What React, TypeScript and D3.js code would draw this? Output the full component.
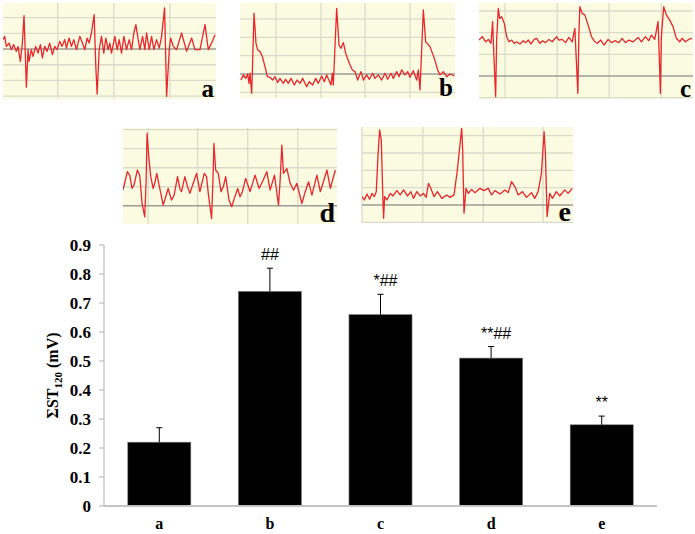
import React from "react";
import * as d3 from "d3";

// ---------- Bar chart data ----------
const categories = ["a", "b", "c", "d", "e"];
const meanST = [0.22, 0.74, 0.66, 0.51, 0.28];
const errST = [0.05, 0.08, 0.07, 0.04, 0.03];
const marks = ["", "##", "*##", "**##", "**"];
const yTicks = [0, 0.1, 0.2, 0.3, 0.4, 0.5, 0.6, 0.7, 0.8, 0.9];

// ---------- ECG traces: [time unit, amplitude in grid units] ----------
const ecgA: [number, number][] = [
  [0, 0.6], [5, 0.81], [10, 0.17], [18, 0.38], [25, -0.04], [32, 0.28], [40, -0.15], [45, 0.17], [52, -0.79], [58, 0.38],
  [63, 2.13], [70, -2.43], [75, -0.04], [78, -0.79], [85, -0.04], [90, -0.47], [98, 0.17], [105, -0.26], [112, 0.28], [118, -0.57],
  [125, 0.17], [132, -0.15], [140, 0.38], [148, -0.36], [155, 0.17], [162, -0.04], [170, 0.49], [177, 0.17], [185, 0.6], [190, 0.06],
  [198, 0.7], [205, 0.17], [212, 0.6], [220, -0.04], [230, 0.81], [238, 0.38], [245, -0.04], [252, 0.7], [258, 0.38], [265, 1.02],
  [273, 2.19], [278, -1.11], [282, -2.87], [288, -0.04], [295, 0.81], [302, -0.26], [308, 0.7], [315, -0.04], [320, 0.38], [325, -0.26],
  [335, 0.81], [342, -0.04], [348, 0.6], [355, -0.26], [362, 0.81], [370, -0.04], [378, 0.6], [385, -0.04], [392, 1.02], [398, 1.55],
  [405, 0.6], [410, -0.04], [418, 0.81], [425, -0.04], [430, 1.02], [438, -0.04], [445, 0.81], [452, -0.04], [460, 0.6], [468, 0.06],
  [475, 0.81], [484, 2.62], [490, -3.02], [498, -0.04], [502, 0.7], [510, 0.17], [520, -0.04], [535, 1.02], [550, -0.15], [565, 0.7],
  [575, -0.04], [590, -0.04], [605, 1.55], [615, -0.04], [625, 0.38], [635, 0.91],
];
const ecgB: [number, number][] = [
  [3, -0.33], [10, -0.05], [17, -0.24], [23, 0], [27, -0.51], [30, 0.04], [35, -1.05], [37, 0.04], [42, 3.31], [48, 1.67],
  [53, 1.31], [60, 1.22], [67, 0.95], [75, 0.4], [82, -0.15], [90, -0.18], [98, -0.33], [105, -0.15], [113, -0.47], [120, -0.24],
  [130, -0.51], [137, -0.29], [145, -0.51], [153, -0.24], [163, -0.6], [171, -0.33], [180, -0.51], [188, -0.24], [200, -0.69], [208, -0.42],
  [218, -0.6], [227, -0.24], [235, -0.51], [245, -0.11], [253, -0.42], [260, -0.05], [273, -0.6], [277, 0.04], [280, -0.6], [290, 3.58],
  [297, 1.58], [303, 1.4], [310, 1.71], [317, 1.13], [328, 0.58], [337, 0.22], [345, 0.13], [353, -0.33], [363, 0.13], [370, -0.33],
  [380, -0.05], [388, -0.29], [398, 0.04], [405, -0.24], [415, -0.05], [425, -0.33], [435, 0.04], [443, -0.29], [453, 0.04], [460, -0.24],
  [470, 0.13], [477, -0.15], [485, 0.22], [495, -0.05], [503, 0.13], [510, -0.18], [520, 0.18], [530, -0.33], [535, 0.22], [540, -0.87],
  [550, 3.49], [557, 1.76], [570, 1.49], [583, 0.85], [593, 0.22], [600, -0.05], [610, 0.13], [620, -0.15], [630, 0], [643, -0.11],
];
const ecgC: [number, number][] = [
  [0, 1.66], [10, 1.82], [20, 1.58], [28, 1.69], [36, 1.51], [41, 2.51], [44, 1.2], [50, -0.95], [53, 1.66], [58, 3.12],
  [62, 2.66], [68, 2.74], [76, 2.43], [83, 1.82], [90, 1.58], [98, 1.66], [106, 1.51], [113, 1.58], [123, 1.48], [133, 1.63],
  [140, 1.54], [148, 1.66], [156, 1.48], [166, 1.69], [173, 1.74], [183, 1.51], [191, 1.63], [200, 1.54], [210, 1.69], [220, 1.58],
  [233, 1.82], [240, 1.66], [250, 1.69], [260, 1.54], [270, 1.78], [280, 1.58], [288, 2.2], [291, 1.2], [297, -0.8], [300, 1.82],
  [303, 3.2], [310, 2.89], [318, 2.82], [328, 2.35], [338, 1.82], [348, 1.58], [356, 1.51], [366, 1.66], [376, 1.43], [388, 1.69],
  [398, 1.54], [408, 1.63], [420, 1.54], [430, 1.74], [440, 1.54], [450, 1.66], [463, 1.58], [478, 1.78], [488, 1.58], [500, 1.82],
  [510, 1.63], [518, 1.89], [528, 1.69], [538, 2.51], [541, 1.2], [545, -0.8], [548, 1.82], [555, 3.2], [563, 2.82], [573, 2.58],
  [583, 2.28], [593, 1.74], [603, 1.58], [610, 1.74], [620, 1.58], [630, 1.69], [640, 1.74],
];
const ecgD: [number, number][] = [
  [0, 0.82], [13, 1.79], [20, 1.61], [27, 0.91], [33, 1.09], [43, 1.88], [50, 1.61], [57, 0.12], [65, -0.58], [69, 1.26],
  [72, 3.81], [77, 2.58], [83, 1.53], [90, 0.91], [95, 1.18], [101, 1.7], [110, 0.91], [120, 0.04], [125, 0.3], [135, 0.91],
  [145, 0.3], [153, 0.56], [163, 1.53], [170, 0.91], [175, 0.74], [185, 1.53], [193, 1.0], [200, 0.65], [210, 1.18], [220, 1.7],
  [230, 0.74], [243, 1.7], [250, 1.53], [255, 0.65], [265, -0.67], [269, 1.35], [272, 3.28], [277, 1.88], [285, 1.7], [293, 0.74],
  [300, 1.0], [307, 1.53], [317, 0.3], [325, -0.05], [333, 0.39], [343, 0.91], [350, 0.47], [357, 0.74], [367, 1.44], [380, 0.74],
  [395, 1.61], [407, 0.91], [418, 1.3], [430, 1.79], [440, 0.82], [453, 1.61], [465, 0.04], [470, 1.35], [475, 3.19], [480, 1.7],
  [490, 1.96], [500, 1.18], [510, 0.82], [520, 1.18], [535, 0.12], [545, 0.74], [555, 1.26], [565, 0.56], [580, 1.61], [590, 0.74],
  [600, 1.3], [610, 1.88], [620, 0.91], [635, 1.88],
];
const ecgE: [number, number][] = [
  [0, 0.48], [7, 0.29], [15, 0.63], [23, 0.33], [30, 0.67], [37, 0.48], [43, 0.77], [48, 2.79], [53, 4.33], [58, 3.75],
  [63, 0.29], [65, -0.77], [68, 0.48], [75, 0.29], [85, 0.67], [93, 0.52], [105, 0.83], [115, 0.58], [125, 0.87], [137, 0.52],
  [147, 0.77], [155, 0.38], [165, 0.77], [175, 0.52], [185, 0.67], [193, 0.44], [200, 1.25], [207, 0.96], [217, 0.48], [227, 0.77],
  [240, 0.38], [255, 0.58], [265, 0.44], [277, 0.58], [287, 2.02], [300, 4.42], [303, 3.17], [307, -0.48], [313, 0.96], [320, 0.67],
  [330, 0.9], [340, 0.71], [355, 0.96], [367, 0.83], [380, 0.96], [390, 0.58], [400, 0.83], [415, 0.63], [430, 0.87], [440, 0.71],
  [450, 1.35], [460, 1.06], [470, 0.58], [483, 0.77], [495, 0.44], [510, 0.71], [520, 0.38], [530, 0.77], [540, 1.83], [548, 4.23],
  [552, 2.98], [557, -0.67], [565, 0.67], [573, 0.38], [585, 0.77], [595, 0.52], [610, 0.87], [620, 0.67], [633, 0.96],
];

type Panel = {
  label: string;
  data: [number, number][];
  x: number; y: number; w: number; h: number;
  tMax: number; vMin: number; vMax: number;
  hGrid: number[]; vGrid: number[]; fs: number;
};

const panels: Panel[] = [
  { label: "a", data: ecgA, x: 3, y: 3, w: 213, h: 96, tMax: 638, vMin: -3.18, vMax: 2.93, hGrid: [-3, -2, -1, 0, 1, 2], vGrid: [164, 332, 500], fs: 25 },
  { label: "b", data: ecgB, x: 240, y: 3, w: 215, h: 95, tMax: 645, vMin: -1.31, vMax: 3.87, hGrid: [-1, 0, 1, 2, 3], vGrid: [108, 243, 375, 510], fs: 25 },
  { label: "c", data: ecgC, x: 479, y: 3, w: 214, h: 96, tMax: 643, vMin: -1.06, vMax: 3.37, hGrid: [-1, 0, 1, 2, 3], vGrid: [78, 235, 391, 548], fs: 25 },
  { label: "d", data: ecgD, x: 123, y: 128, w: 214, h: 96, tMax: 640, vMin: -0.96, vMax: 4.09, hGrid: [0, 1, 2, 3, 4], vGrid: [75, 223, 373, 523], fs: 28 },
  { label: "e", data: ecgE, x: 362, y: 127, w: 211, h: 96, tMax: 635, vMin: -1.04, vMax: 4.5, hGrid: [-1, 0, 1, 2, 3, 4], vGrid: [0, 183, 365, 545], fs: 28 },
];

const SERIF = "'Times New Roman', 'Liberation Serif', serif";
const SANS = "Arial, 'Liberation Sans', sans-serif";

function EcgPanel({ p, idx }: { p: Panel; idx: number }) {
  const xs = d3.scaleLinear().domain([0, p.tMax]).range([p.x, p.x + p.w]);
  const ys = d3.scaleLinear().domain([p.vMin, p.vMax]).range([p.y + p.h, p.y]);
  const line = d3.line<[number, number]>().x((d) => xs(d[0])).y((d) => ys(d[1]));
  const clipId = `clip-${idx}`;
  return (
    <g>
      <defs>
        <clipPath id={clipId}>
          <rect x={p.x} y={p.y} width={p.w} height={p.h} />
        </clipPath>
      </defs>
      <rect x={p.x} y={p.y} width={p.w} height={p.h} fill="#fbfbe1" />
      {p.vGrid.map((t) => (
        <line key={"v" + t} x1={xs(t)} x2={xs(t)} y1={p.y} y2={p.y + p.h} stroke="#d9dccb" strokeWidth={1.3} />
      ))}
      {p.hGrid.map((v) => (
        <line key={"h" + v} x1={p.x} x2={p.x + p.w} y1={ys(v)} y2={ys(v)}
          stroke={v === 0 ? "#9c9c94" : "#d9dccb"} strokeWidth={v === 0 ? 1.4 : 1.3} />
      ))}
      <path d={line(p.data) || ""} fill="none" stroke="#e8262b" strokeWidth={1.3} strokeLinejoin="round" clipPath={`url(#${clipId})`} />
      <text x={p.x + p.w - 2} y={p.y + p.h - 2} textAnchor="end" fontFamily={SERIF} fontWeight="bold" fontSize={p.fs} fill="#000">
        {p.label}
      </text>
    </g>
  );
}

export default function App() {
  const W = 695, H = 534;
  const x = d3.scaleBand<string>().domain(categories).range([104, 657]).paddingInner(0.43).paddingOuter(0.215);
  const y = d3.scaleLinear().domain([0, 0.9]).range([506, 245]);
  const bw = x.bandwidth();

  return (
    <div style={{ position: "fixed", left: 0, top: 0, width: W, height: H, background: "#fff" }}>
      <svg width={W} height={H} viewBox={`0 0 ${W} ${H}`} style={{ display: "block" }}>
        <rect width={W} height={H} fill="#fff" />
        {panels.map((p, i) => (
          <EcgPanel key={p.label} p={p} idx={i} />
        ))}

        {/* y axis */}
        <line x1={104} x2={104} y1={y(0.9)} y2={y(0)} stroke="#bdbdbd" strokeWidth={1.2} />
        {yTicks.map((t) => (
          <g key={t}>
            <line x1={99} x2={104} y1={y(t)} y2={y(t)} stroke="#bdbdbd" strokeWidth={1.2} />
            <text x={91} y={y(t)} dy="0.35em" textAnchor="end" fontFamily={SERIF} fontWeight="bold" fontSize={17} fill="#000">
              {t === 0 ? "0" : t.toFixed(1)}
            </text>
          </g>
        ))}
        <text transform={`translate(58, ${y(0.45) + 0}) rotate(-90)`} textAnchor="middle" fontFamily={SERIF} fontWeight="bold" fontSize={16} fill="#000">
          ΣST<tspan fontSize={11} dy={4}>120</tspan><tspan dy={-4}> (mV)</tspan>
        </text>

        {/* bars */}
        {categories.map((c, i) => {
          const x0 = x(c) as number;
          const cx = x0 + bw / 2;
          const top = y(meanST[i]);
          const etop = y(meanST[i] + errST[i]);
          return (
            <g key={c}>
              <rect x={x0} y={top} width={bw} height={y(0) - top} fill="#000" stroke="#777" strokeWidth={0.6} />
              <line x1={cx} x2={cx} y1={top} y2={etop} stroke="#000" strokeWidth={1} />
              <line x1={cx - 3} x2={cx + 3} y1={etop} y2={etop} stroke="#000" strokeWidth={1} />
              {marks[i] && (
                <text x={cx + (marks[i].length > 2 ? 5 : 0)} y={etop - 8} textAnchor="middle" fontFamily={SANS} fontSize={16} fill="#000">
                  {marks[i]}
                </text>
              )}
              <text x={cx} y={529} textAnchor="middle" fontFamily={SERIF} fontWeight="bold" fontSize={16} fill="#000">
                {c}
              </text>
            </g>
          );
        })}

        {/* x axis */}
        <line x1={104} x2={657} y1={y(0)} y2={y(0)} stroke="#c4c4c4" strokeWidth={2} />
      </svg>
    </div>
  );
}
